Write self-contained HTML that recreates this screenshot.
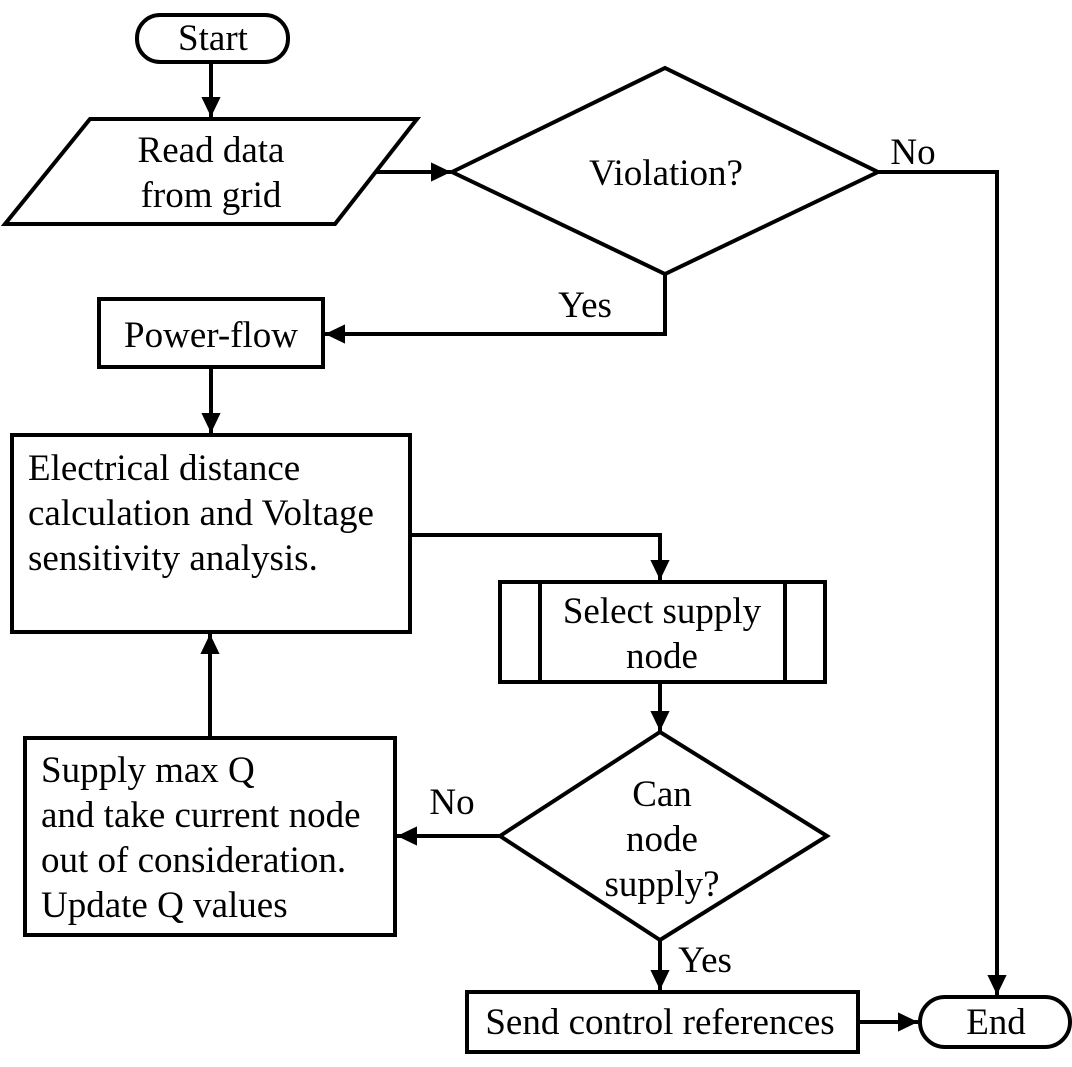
<!DOCTYPE html>
<html><head><meta charset="utf-8"><style>
html,body{margin:0;padding:0;background:#fff;}
svg{display:block;}
text{font-family:"Liberation Serif",serif;font-size:37px;fill:#000;}
</style></head><body>
<svg width="1072" height="1067" viewBox="0 0 1072 1067" xmlns="http://www.w3.org/2000/svg">
<defs><marker id="a" markerWidth="6" markerHeight="6" refX="5" refY="3" orient="auto" markerUnits="strokeWidth"><path d="M0,0.6 L5,3 L0,5.4 z" fill="#000"/></marker></defs>
<g fill="none" stroke="#000" stroke-width="4">
<rect x="137" y="15" width="151" height="47" rx="23"/>
<polygon points="90,119 417,119 335,224 5,224"/>
<polygon points="452,172 665,68 878,172 665,274"/>
<rect x="99" y="299" width="224" height="68"/>
<rect x="12" y="435" width="398" height="197"/>
<rect x="500" y="582" width="325" height="100"/>
<line x1="540" y1="582" x2="540" y2="682"/>
<line x1="785" y1="582" x2="785" y2="682"/>
<polygon points="500,836 660,732 827,836 660,940"/>
<rect x="25" y="738" width="370" height="197"/>
<rect x="467" y="992" width="391" height="60"/>
<rect x="920" y="997" width="150" height="50" rx="25"/>
<line x1="211" y1="62" x2="211" y2="117" marker-end="url(#a)"/>
<line x1="375" y1="172" x2="451" y2="172" marker-end="url(#a)"/>
<polyline points="878,172 997,172 997,995" marker-end="url(#a)"/>
<polyline points="665,274 665,334 325,334" marker-end="url(#a)"/>
<line x1="211" y1="367" x2="211" y2="433" marker-end="url(#a)"/>
<polyline points="410,535 660,535 660,580" marker-end="url(#a)"/>
<line x1="660" y1="682" x2="660" y2="731" marker-end="url(#a)"/>
<line x1="500" y1="836" x2="397" y2="836" marker-end="url(#a)"/>
<line x1="210" y1="738" x2="210" y2="634" marker-end="url(#a)"/>
<line x1="660" y1="940" x2="660" y2="990" marker-end="url(#a)"/>
<line x1="858" y1="1022" x2="918" y2="1022" marker-end="url(#a)"/>
</g>
<g text-anchor="middle">
<text x="213" y="50">Start</text>
<text x="211" y="162">Read data</text>
<text x="211" y="207">from grid</text>
<text x="666" y="185">Violation?</text>
<text x="211" y="347">Power-flow</text>
<text x="662" y="623">Select supply</text>
<text x="662" y="668">node</text>
<text x="662" y="806">Can</text>
<text x="662" y="851">node</text>
<text x="662" y="896">supply?</text>
<text x="660" y="1034">Send control references</text>
<text x="996" y="1034">End</text>
<text x="913" y="164">No</text>
<text x="585" y="317">Yes</text>
<text x="452" y="814">No</text>
<text x="705" y="972">Yes</text>
</g>
<g>
<text x="28" y="480">Electrical distance</text>
<text x="28" y="525">calculation and Voltage</text>
<text x="28" y="570">sensitivity analysis.</text>
<text x="41" y="782">Supply max Q</text>
<text x="41" y="827">and take current node</text>
<text x="41" y="872">out of consideration.</text>
<text x="41" y="917">Update Q values</text>
</g>
</svg>
</body></html>
